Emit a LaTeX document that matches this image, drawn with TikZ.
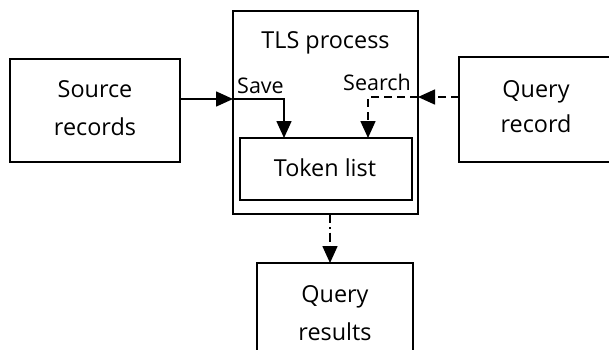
\documentclass[tikz,border=0pt]{standalone}
\usepackage{fontspec}
\setmainfont{Open Sans}
\usetikzlibrary{arrows.meta}
\begin{document}
\begin{tikzpicture}[x=1pt,y=-1pt,
  box/.style={draw,line width=1.6pt},
  conn/.style={line width=1.6pt,-{Triangle[length=17pt,width=15pt]}},
  bigtxt/.style={font=\fontsize{23.4}{28}\selectfont,inner sep=0pt,anchor=base},
  smalltxt/.style={font=\fontsize{21.5}{25}\selectfont,inner sep=0pt,anchor=base west},
  dashline/.style={dash pattern=on 8pt off 5pt},
  dashdot/.style={dash pattern=on 9pt off 4pt on 1.5pt off 4pt}]
\useasboundingbox (0,0) rectangle (609,349);
\clip (0,0) rectangle (609,349);
% boxes
\draw[box] (10,59) rectangle (180,162);
\draw[box] (233,11) rectangle (418,214);
\draw[box] (240,138) rectangle (412,200);
\draw[box] (459,57) rectangle (640,162);
\draw[box] (257,263) rectangle (413,380);
% named anchor points
\coordinate (srcE) at (180,99);
\coordinate (tlsW) at (233,99);
\coordinate (saveT) at (284,99);
\coordinate (tokSave) at (284,138);
\coordinate (qrW) at (459,97);
\coordinate (tlsE) at (418,97);
\coordinate (searchT) at (368,97);
\coordinate (tokSearch) at (368,138);
\coordinate (tlsS) at (330,214);
\coordinate (resN) at (330,263);
% labels
\node[bigtxt] (srcLbl1) at (95,97) {Source};
\node[bigtxt] (srcLbl2) at (95,135) {records};
\node[bigtxt] (tlsLbl) at (325.5,48) {TLS process};
\node[bigtxt] (tokLbl) at (325,176.5) {Token list};
\node[bigtxt] (qrLbl1) at (536,97) {Query};
\node[bigtxt] (qrLbl2) at (536,132) {record};
\node[bigtxt] (resLbl1) at (335,302) {Query};
\node[bigtxt] (resLbl2) at (335,340) {results};
\node[smalltxt] (saveLbl) at (237,93) {Save};
\node[smalltxt] (searchLbl) at (343,90) {Search};
% connectors
\draw[conn] (srcE) -- (tlsW);
\draw[conn] (tlsW) -- (saveT) -- (tokSave);
\draw[conn,dashline] (qrW) -- (tlsE);
\draw[conn,dashline] (tlsE) -- (searchT) -- (tokSearch);
\draw[conn,dashdot] (tlsS) -- (resN);
\end{tikzpicture}
\end{document}
